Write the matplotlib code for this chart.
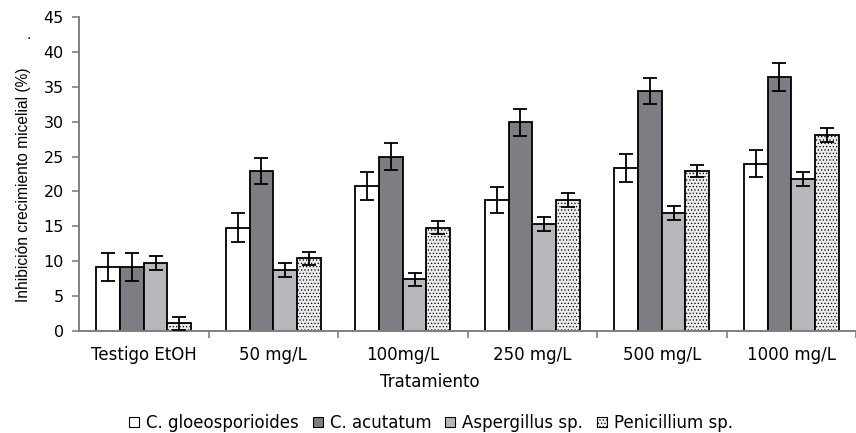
import matplotlib
matplotlib.use("Agg")
import matplotlib.pyplot as plt
import numpy as np
from matplotlib.patches import Patch

categories = ["Testigo EtOH", "50 mg/L", "100mg/L", "250 mg/L", "500 mg/L", "1000 mg/L"]
series_names = ["C. gloeosporioides", "C. acutatum", "Aspergillus sp.", "Penicillium sp."]
c_gloeo = [9.2, 14.8, 20.8, 18.8, 23.4, 24.0]
c_gloeo_err = [2.0, 2.1, 2.0, 1.9, 2.0, 1.9]
c_acut = [9.2, 22.9, 25.0, 29.9, 34.4, 36.4]
c_acut_err = [2.0, 1.9, 1.9, 1.9, 1.9, 2.0]
asperg = [9.7, 8.7, 7.4, 15.3, 16.9, 21.8]
asperg_err = [1.0, 1.0, 0.9, 1.0, 1.0, 1.0]
penic = [1.1, 10.4, 14.8, 18.8, 22.9, 28.1]
penic_err = [0.9, 0.9, 0.9, 1.0, 0.9, 1.0]
yticks = [0, 5, 10, 15, 20, 25, 30, 35, 40, 45]

values = [c_gloeo, c_acut, asperg, penic]
errors = [c_gloeo_err, c_acut_err, asperg_err, penic_err]
faces = ["white", "#7d7e83", "#b7b8bc", "#ececec"]
hatches = [None, None, None, "....."]

plt.rcParams["hatch.color"] = "#a0a0a0"
plt.rcParams["hatch.linewidth"] = 0.5

fig = plt.figure(figsize=(8.56, 4.33), dpi=100)
ax = fig.add_axes([79/856, 1-331/433, 1-79/856, (331-17)/433])

x = np.arange(len(categories))
bw = 0.183
for i, (vals, errs) in enumerate(zip(values, errors)):
    pos = x + (i - 1.5) * bw
    ax.bar(pos, vals, width=bw, color=faces[i], edgecolor="black", linewidth=1.3,
           hatch=hatches[i], zorder=2)
    ax.errorbar(pos, vals, yerr=errs, fmt="none", ecolor="black", elinewidth=1.3,
                capsize=5, capthick=1.3, zorder=3)

ax.set_xlim(-0.5, -0.5 + (856-79)/131)
ax.set_ylim(0, 45)
ax.set_yticks(yticks)
ax.set_yticklabels([str(t) for t in yticks], fontsize=11.5, family="DejaVu Sans")
ax.set_xticks(x + 0.5, minor=False)
ax.set_xticklabels([])
ax.set_xticks(x, minor=True)
ax.set_xticklabels(categories, minor=True, fontsize=12, family="DejaVu Sans")
ax.tick_params(axis="x", which="minor", length=0, pad=11)
ax.tick_params(axis="x", which="major", length=5, color="#808080", width=1.2)
ax.tick_params(axis="y", length=5, color="#808080", width=1.2, pad=6)
for s in ["top", "right"]:
    ax.spines[s].set_visible(False)
for s in ["left", "bottom"]:
    ax.spines[s].set_color("#808080")
    ax.spines[s].set_linewidth(1.4)

ax.set_xlabel("Tratamiento", fontsize=12, family="DejaVu Sans")
ax.xaxis.set_label_coords((430-79)/777, (331-373)/314)
ax.xaxis.label.set_va("top")
ax.set_ylabel("Inhibición crecimiento micelial (%)", fontsize=11.2,
              family=["Liberation Sans Narrow", "Liberation Sans", "DejaVu Sans"])
ax.yaxis.set_label_coords(-0.062, 0.465)

fig.text(29/856, 1-35/433, ".", fontsize=10, ha="center", va="center")

handles = [Patch(facecolor=faces[i], edgecolor="black", linewidth=0.8, hatch=hatches[i])
           for i in range(4)]
fig.legend(handles, series_names, loc="center", bbox_to_anchor=(431/856, 1-423/433),
           ncol=4, frameon=False, handlelength=0.6, handleheight=0.6,
           handletextpad=0.4, columnspacing=0.85, borderpad=0.0,
           prop={"family": "DejaVu Sans", "size": 12})

fig.savefig("out.png", dpi=100)
